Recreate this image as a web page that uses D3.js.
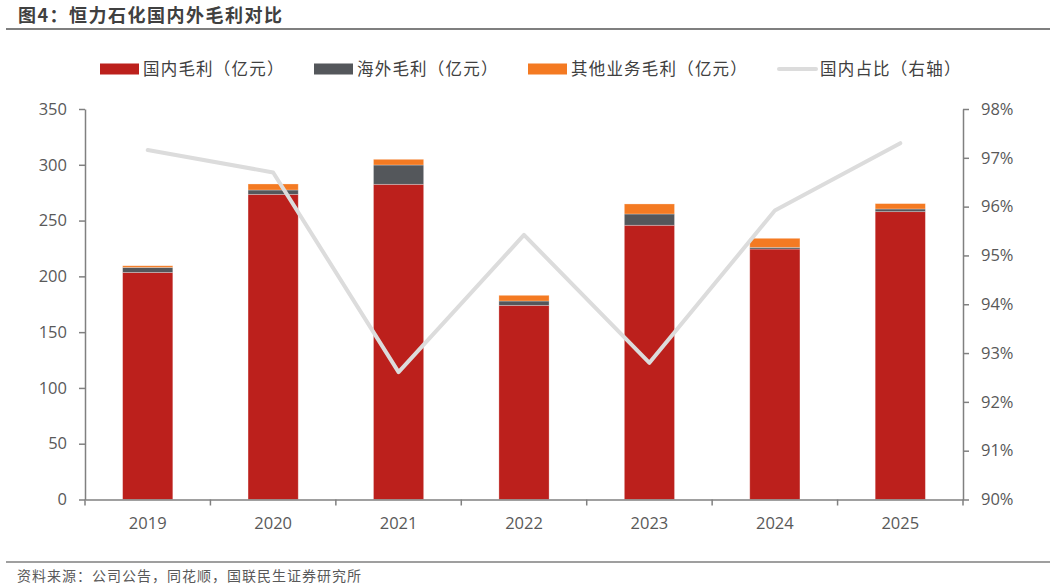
<!DOCTYPE html>
<html>
<head>
<meta charset="utf-8">
<script src="https://cdn.jsdelivr.net/npm/d3@7"></script>
<style>
  body { margin: 0; background: #fff; }
  svg { font-family: "Noto Sans CJK SC", "Open Sans", sans-serif; }
  .tick text { font-family: "Open Sans", "Noto Sans CJK SC", sans-serif; }
</style>
</head>
<body>
<div id="chart"></div>
<script>
// data
const years = ["2019", "2020", "2021", "2022", "2023", "2024", "2025"];
const domestic = [203.5, 273.5, 282.5, 174, 245.8, 224.5, 258];   // 国内毛利
const overseas = [4.5, 3.9, 17.3, 3.9, 10.1, 1.5, 2.4];           // 海外毛利
const other = [1.5, 5.4, 5.1, 5.1, 9.0, 8.1, 4.8];                // 其他业务毛利
const domShare = [0.9716, 0.9670, 0.9261, 0.9542, 0.9280, 0.9592, 0.9730]; // 国内占比
const leftTicks = [0, 50, 100, 150, 200, 250, 300, 350];
const rightTicks = [0.90, 0.91, 0.92, 0.93, 0.94, 0.95, 0.96, 0.97, 0.98];

const W = 1055, H = 588;
const plotLeft = 85, plotRight = 963, plotTop = 109, plotBottom = 499.5;

const colors = { dom: "#bc201c", over: "#54575b", other: "#f47a22", line: "#dcdcdc" };

const svg = d3.select("#chart").append("svg")
    .attr("width", W)
    .attr("height", H);

// title
svg.append("text")
    .attr("x", 18).attr("y", 22)
    .attr("font-size", 18).attr("font-weight", "bold")
    .attr("letter-spacing", 1.5)
    .attr("fill", "#404040")
    .text("图4：恒力石化国内外毛利对比");
svg.append("line")
    .attr("x1", 6).attr("x2", 1050).attr("y1", 29).attr("y2", 29)
    .attr("stroke", "#7f7f7f").attr("stroke-width", 2);

const x = d3.scaleBand().domain(years).range([plotLeft, plotRight])
    .paddingInner(0.6).paddingOuter(0.3);
const y = d3.scaleLinear().domain([0, 350]).range([plotBottom, plotTop]);
const yR = d3.scaleLinear().domain([0.90, 0.98]).range([plotBottom, plotTop]);

// stacked bars
const rows = years.map((yr, i) => ({ year: yr, dom: domestic[i], over: overseas[i], other: other[i] }));
const stack = d3.stack().keys(["dom", "over", "other"])(rows);

svg.append("g").selectAll("g")
    .data(stack)
    .join("g")
    .attr("fill", d => colors[d.key])
    .selectAll("rect")
    .data(d => d)
    .join("rect")
    .attr("x", d => x(d.data.year))
    .attr("width", x.bandwidth())
    .attr("y", d => y(d[1]))
    .attr("height", d => y(d[0]) - y(d[1]))
    .attr("stroke", "#fff")
    .attr("stroke-opacity", 0.35)
    .attr("stroke-width", 0.8);

// line on right axis
const line = d3.line()
    .x((d, i) => x(years[i]) + x.bandwidth() / 2)
    .y(d => yR(d));
svg.append("path")
    .datum(domShare)
    .attr("d", line)
    .attr("fill", "none")
    .attr("stroke", colors.line)
    .attr("stroke-width", 4)
    .attr("stroke-linejoin", "round")
    .attr("stroke-linecap", "round");

// axes
const axisColor = "#808080";
const labelColor = "#595959";

const gL = svg.append("g")
    .attr("transform", `translate(${plotLeft},0)`)
    .call(d3.axisLeft(y).tickValues(leftTicks).tickSize(6).tickPadding(12).tickSizeOuter(0));
const gR = svg.append("g")
    .attr("transform", `translate(${plotRight},0)`)
    .call(d3.axisRight(yR).tickValues(rightTicks).tickFormat(d3.format(".0%")).tickSize(6).tickPadding(12).tickSizeOuter(0));
const gX = svg.append("g")
    .attr("transform", `translate(0,${plotBottom})`)
    .call(d3.axisBottom(x).tickSize(0).tickPadding(18));

[gL, gR, gX].forEach(g => {
    g.select(".domain").attr("stroke", axisColor).attr("stroke-width", 1.5);
    g.selectAll(".tick line").attr("stroke", axisColor).attr("stroke-width", 1.5);
    g.selectAll(".tick text").attr("fill", labelColor).attr("font-size", 16.5);
});

// category boundary ticks on x axis
const bounds = d3.range(years.length + 1).map(i => plotLeft + i * x.step());
gX.selectAll(".bound")
    .data(bounds)
    .join("line")
    .attr("class", "bound")
    .attr("x1", d => d).attr("x2", d => d)
    .attr("y1", 0).attr("y2", 6)
    .attr("stroke", axisColor).attr("stroke-width", 1.5);

// legend
const legend = [
    { label: "国内毛利（亿元）", color: colors.dom, type: "rect", x: 100 },
    { label: "海外毛利（亿元）", color: colors.over, type: "rect", x: 314 },
    { label: "其他业务毛利（亿元）", color: colors.other, type: "rect", x: 528 },
    { label: "国内占比（右轴）", color: colors.line, type: "line", x: 777 }
];
const lg = svg.append("g").selectAll("g")
    .data(legend)
    .join("g")
    .attr("transform", d => `translate(${d.x},69)`);
lg.filter(d => d.type === "rect").append("rect")
    .attr("x", 0).attr("y", -5.5).attr("width", 39).attr("height", 11)
    .attr("fill", d => d.color);
lg.filter(d => d.type === "line").append("line")
    .attr("x1", 2).attr("x2", 39).attr("y1", 0).attr("y2", 0)
    .attr("stroke", d => d.color).attr("stroke-width", 4).attr("stroke-linecap", "round");
lg.append("text")
    .attr("x", 43).attr("y", 6)
    .attr("font-size", 16.5).attr("letter-spacing", 1.2)
    .attr("fill", "#404040")
    .text(d => d.label);

// footer
svg.append("line")
    .attr("x1", 6).attr("x2", 1050).attr("y1", 562).attr("y2", 562)
    .attr("stroke", "#7f7f7f").attr("stroke-width", 1.5);
svg.append("text")
    .attr("x", 17).attr("y", 581)
    .attr("font-size", 14).attr("letter-spacing", 1)
    .attr("fill", "#595959")
    .text("资料来源：公司公告，同花顺，国联民生证券研究所");
</script>
</body>
</html>
